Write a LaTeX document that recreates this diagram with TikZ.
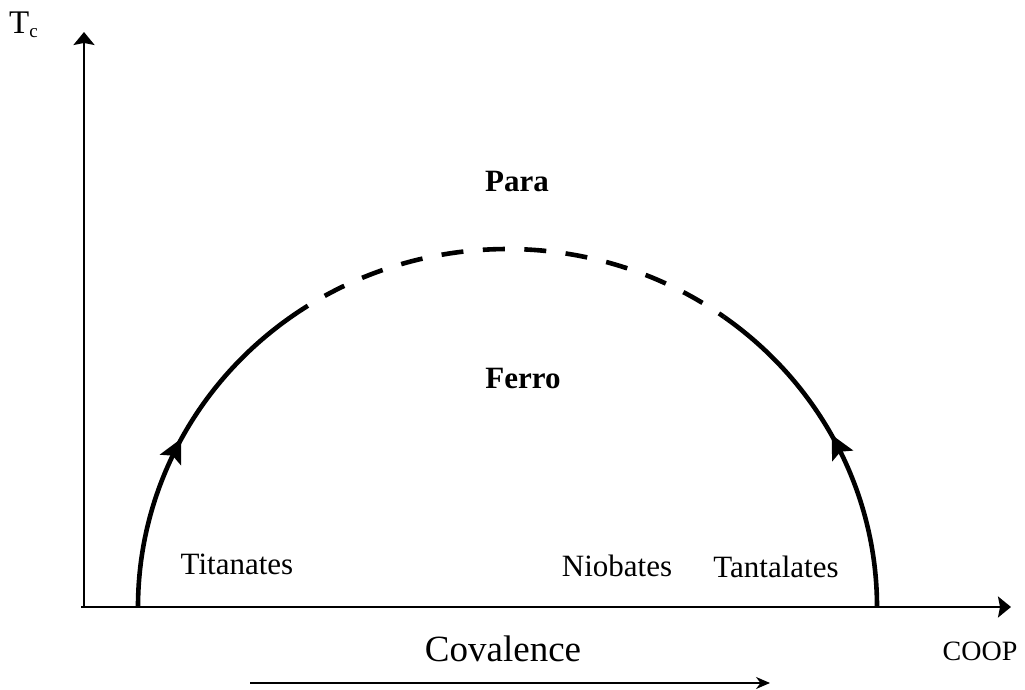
\documentclass[tikz,border=0pt]{standalone}
\usepackage{fontspec}
\setmainfont{Liberation Serif}
\usetikzlibrary{arrows.meta,decorations.markings}
\begin{document}
\begin{tikzpicture}[x=1pt,y=1pt,
  axis/.style={line width=2.4pt,-{Stealth[length=13pt,width=21pt,inset=2pt]}},
  curve/.style={line width=4.6pt},
  arrmark/.style={postaction={decorate,decoration={markings,mark=at position #1 with {\fill[black] (13pt,0pt) -- (-11pt,12pt) -- (-6pt,0pt) -- (-11pt,-12pt) -- cycle;}}}},
  lbl/.style={font=\fontsize{31}{36}\selectfont,anchor=base,inner sep=0pt},
  boldlbl/.style={lbl,font=\fontsize{31}{36}\selectfont\bfseries},
  ell/.style={x radius=369.5pt,y radius=358pt}]
\useasboundingbox (0,0) rectangle (1025,690);
% axes
\coordinate (O) at (84,82);
\coordinate (Ytop) at (84,658);
\coordinate (Xstart) at (81,83);
\coordinate (Xend) at (1011,83);
\draw[axis] (O) -- (Ytop);
\draw[axis] (Xstart) -- (Xend);
% curve
\coordinate (Lfoot) at (138,83);
\coordinate (Rfoot) at (877,83);
\draw[curve,arrmark=0.45] (Lfoot) arc[start angle=180,end angle=122.7,ell] coordinate (Ldash);
\draw[curve,dash pattern=on 22pt off 19.5pt,dash phase=22pt] (Ldash) arc[start angle=122.7,end angle=54.1,ell] coordinate (Rdash);
\draw[curve,arrmark=0.49] (Rfoot) arc[start angle=0,end angle=54.1,ell];
% covalence arrow
\coordinate (Cs) at (250,7);
\coordinate (Ce) at (770,7);
\draw[line width=2pt,-{Stealth[length=14pt,width=12pt]}] (Cs) -- (Ce);
% labels
\node[lbl,anchor=base west,font=\fontsize{33}{38}\selectfont] (tc) at (9,656) {T\raisebox{-4pt}{\fontsize{19}{19}\selectfont c}};
\node[boldlbl] (para) at (517,498) {Para};
\node[boldlbl] (ferro) at (523,301) {Ferro};
\node[lbl] (tit) at (237,115) {Titanates};
\node[lbl] (nio) at (617,113) {Niobates};
\node[lbl] (tan) at (776,112) {Tantalates};
\node[lbl,font=\fontsize{37}{42}\selectfont] (cov) at (503,28) {Covalence};
\node[lbl,font=\fontsize{28}{32}\selectfont] (coop) at (980,29) {COOP};
\end{tikzpicture}
\end{document}
